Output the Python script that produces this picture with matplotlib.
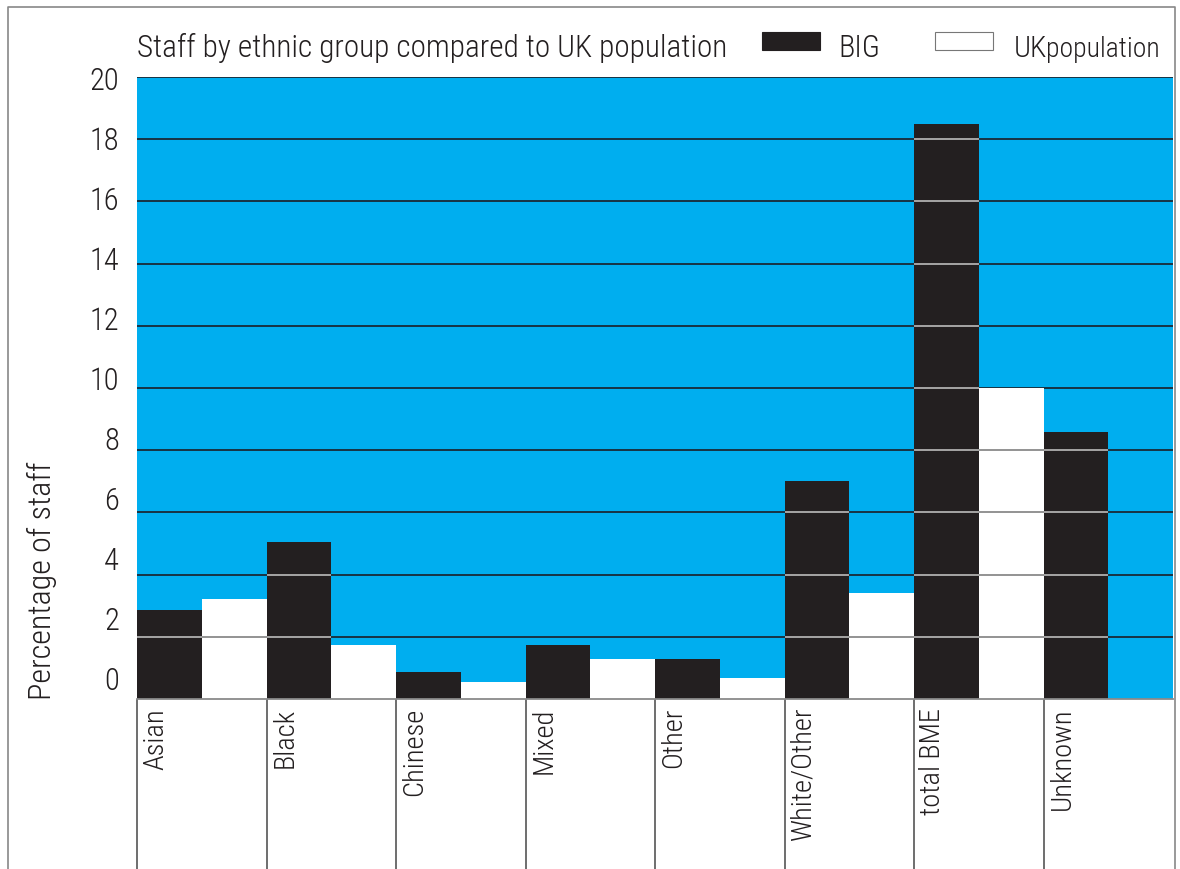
"""
Staff by ethnic group compared to UK population - bar chart.
"""

import matplotlib
matplotlib.use('Agg')
import matplotlib.pyplot as plt
import numpy as np
from matplotlib.patches import Rectangle

plt.rcParams['font.family'] = ['Roboto Condensed', 'IBM Plex Sans Condensed', 'DejaVu Sans']
plt.rcParams['font.weight'] = 'light'

categories = ['Asian', 'Black', 'Chinese', 'Mixed', 'Other', 'White/Other', 'total BME', 'Unknown']
big = [2.85, 5.05, 0.87, 1.75, 1.3, 7.0, 18.5, 8.6]
uk_pop = [3.2, 1.75, 0.55, 1.3, 0.68, 3.4, 10.0, np.nan]

yticks = np.arange(0, 21, 2)
# the printed tick labels sit on their own, slightly compressed scale
ylabel_pos = np.linspace(0.7, 20, len(yticks))

title = 'Staff by ethnic group compared to UK population'
legend_labels = ['BIG', 'UK population']

blue = '#00aeef'
black = '#231f20'
txt = '#231f20'
W, H = 1180, 870

fig = plt.figure(figsize=(W / 100, H / 100), dpi=100)
ax = fig.add_axes([137 / W, 1 - 700 / H, (1173 - 137) / W, (700 - 78) / H])
ax.set_facecolor(blue)

x = np.arange(len(categories))

# dark gridlines on the blue
ax.hlines(yticks[1:], -0.5, len(categories) - 0.5, color='#1a2a35', lw=1.3, zorder=1)

ax.bar(x - 0.25, big, width=0.5, color=black, zorder=2)
ax.bar(x + 0.25, uk_pop, width=0.5, color='white', zorder=2)

# lighter gridlines where they cross the bars
for xi, b, u in zip(x, big, uk_pop):
    for t in yticks[1:]:
        if t < b:
            ax.hlines(t, xi - 0.5, xi, color='#b0b0b0', lw=1.3, zorder=3)
        if not np.isnan(u) and t < u:
            ax.hlines(t, xi, xi + 0.5, color='#8a8a8a', lw=1.3, zorder=3)

ax.set_xlim(-0.5, len(categories) - 0.5)
ax.set_ylim(0, 20)
ax.set_xticks([])
ax.set_yticks(ylabel_pos)
ax.set_yticklabels([str(v) for v in yticks], fontsize=22, color=txt)
ax.tick_params(axis='y', length=0, pad=13)

for side in ['top', 'right', 'left']:
    ax.spines[side].set_visible(False)
ax.spines['bottom'].set_color('#8a8a8a')
ax.spines['bottom'].set_linewidth(1.3)

# category cells under the plot
trans = ax.get_xaxis_transform()
cell_bottom = -(H - 700) / (700 - 78)
ax.vlines(x - 0.5, cell_bottom, 0, transform=trans, color='#555555', lw=1.2, clip_on=False)
for xi, name in zip(x, categories):
    ax.annotate(name, (xi - 0.5, 0), xycoords=trans, xytext=(5, -8),
                textcoords='offset pixels', rotation=90, ha='left', va='top',
                fontsize=20.5, color=txt, annotation_clip=False)

fig.text(42 / W, 1 - 700 / H, 'Percentage of staff', rotation=90,
         ha='center', va='bottom', fontsize=23, color=txt)

# title and legend row
fig.text(137 / W, 1 - 57 / H, title, ha='left', va='baseline', fontsize=22.5, color=txt)
fig.patches.append(Rectangle((762 / W, 1 - 51 / H), 58 / W, 18 / H, transform=fig.transFigure,
                             facecolor=black, edgecolor=black, lw=0.8))
fig.text(838 / W, 1 - 57 / H, legend_labels[0], ha='left', va='baseline', fontsize=22, color=txt)
fig.patches.append(Rectangle((935 / W, 1 - 51 / H), 58 / W, 18 / H, transform=fig.transFigure,
                             facecolor='white', edgecolor='#777777', lw=0.8))
# the source sets "UK population" very tightly
uk_word, pop_word = legend_labels[1].split(' ')
fig.text(1014 / W, 1 - 57 / H, uk_word, ha='left', va='baseline', fontsize=21.5, color=txt)
fig.text(1046 / W, 1 - 57 / H, pop_word, ha='left', va='baseline', fontsize=20, color=txt)

# outer frame
fig.add_artist(plt.Line2D([8 / W, 8 / W, 1175 / W, 1175 / W], [0, 1 - 8 / H, 1 - 8 / H, 0],
                          transform=fig.transFigure, color='#888888', lw=1.2))

fig.savefig('out.png', dpi=100)
